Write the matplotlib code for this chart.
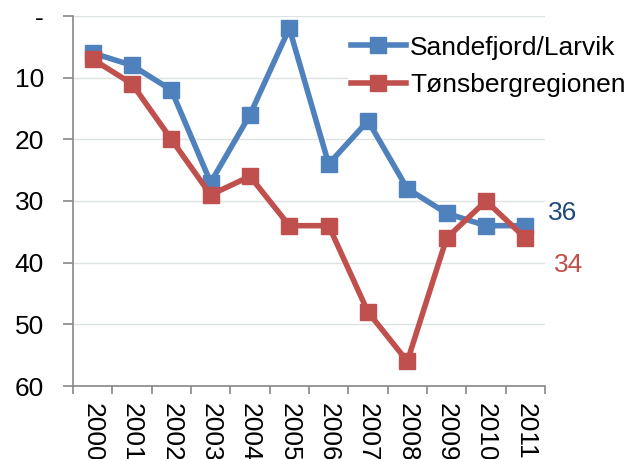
import matplotlib.pyplot as plt

plt.rcParams['font.family'] = ['Liberation Sans', 'DejaVu Sans']

years = [str(y) for y in range(2000, 2012)]
sandefjord = [6, 8, 12, 27, 16, 2, 24, 17, 28, 32, 34, 34]
tonsberg = [7, 11, 20, 29, 26, 34, 34, 48, 56, 36, 30, 36]
end_labels = ["36", "34"]

blue = "#4F81BD"
red = "#C0504D"
fs = 19

fig = plt.figure(figsize=(6.28, 4.59), dpi=100)
ax = fig.add_axes([73 / 628, 1 - 386 / 459, 472 / 628, 370 / 459])

x = list(range(len(years)))
ax.plot(x, sandefjord, color=blue, lw=4, marker="s", ms=11, label="Sandefjord/Larvik")
ax.plot(x, tonsberg, color=red, lw=4, marker="s", ms=11, label="Tønsbergregionen")

ax.set_ylim(60, 0)
ax.set_xlim(-0.5, len(years) - 0.5)
ax.set_yticks(range(0, 61, 10))
ax.set_yticklabels(["-", "10", "20", "30", "40", "50", "60"], fontsize=fs)
# category boundaries carry the ticks, labels sit at the centres
ax.set_xticks([i + 0.5 for i in range(-1, len(years))])
ax.set_xticklabels([])
ax.set_xticks(x, minor=True)
ax.set_xticklabels(years, minor=True, rotation=270, fontsize=fs, va="top", ha="center")
ax.tick_params(axis="x", which="minor", length=0, pad=12)
ax.tick_params(axis="x", which="major", length=6, width=1.2, color="#888888")
ax.tick_params(axis="y", length=7, width=1.2, color="#888888", pad=14)

ax.grid(axis="y", color="#DDE3E3", lw=1)
ax.set_axisbelow(True)
for s in ["top", "right"]:
    ax.spines[s].set_visible(False)
for s in ["left", "bottom"]:
    ax.spines[s].set_color("#888888")
    ax.spines[s].set_linewidth(1.2)

ax.text(11.58, 32, end_labels[0], color="#1F497D", fontsize=fs,
        va="center", ha="left", clip_on=False)
ax.text(11.73, 40.4, end_labels[1], color=red, fontsize=fs,
        va="center", ha="left", clip_on=False)

leg = fig.legend(loc="upper left", bbox_to_anchor=(348 / 628, 1 - 33 / 459),
                 frameon=True, fontsize=fs, handlelength=2.1, handletextpad=0.15,
                 borderaxespad=0, borderpad=0.1, labelspacing=0.5)
leg.get_frame().set_edgecolor("none")
leg.get_frame().set_facecolor("white")
leg.get_frame().set_alpha(1)

fig.savefig("out.png", dpi=100)
